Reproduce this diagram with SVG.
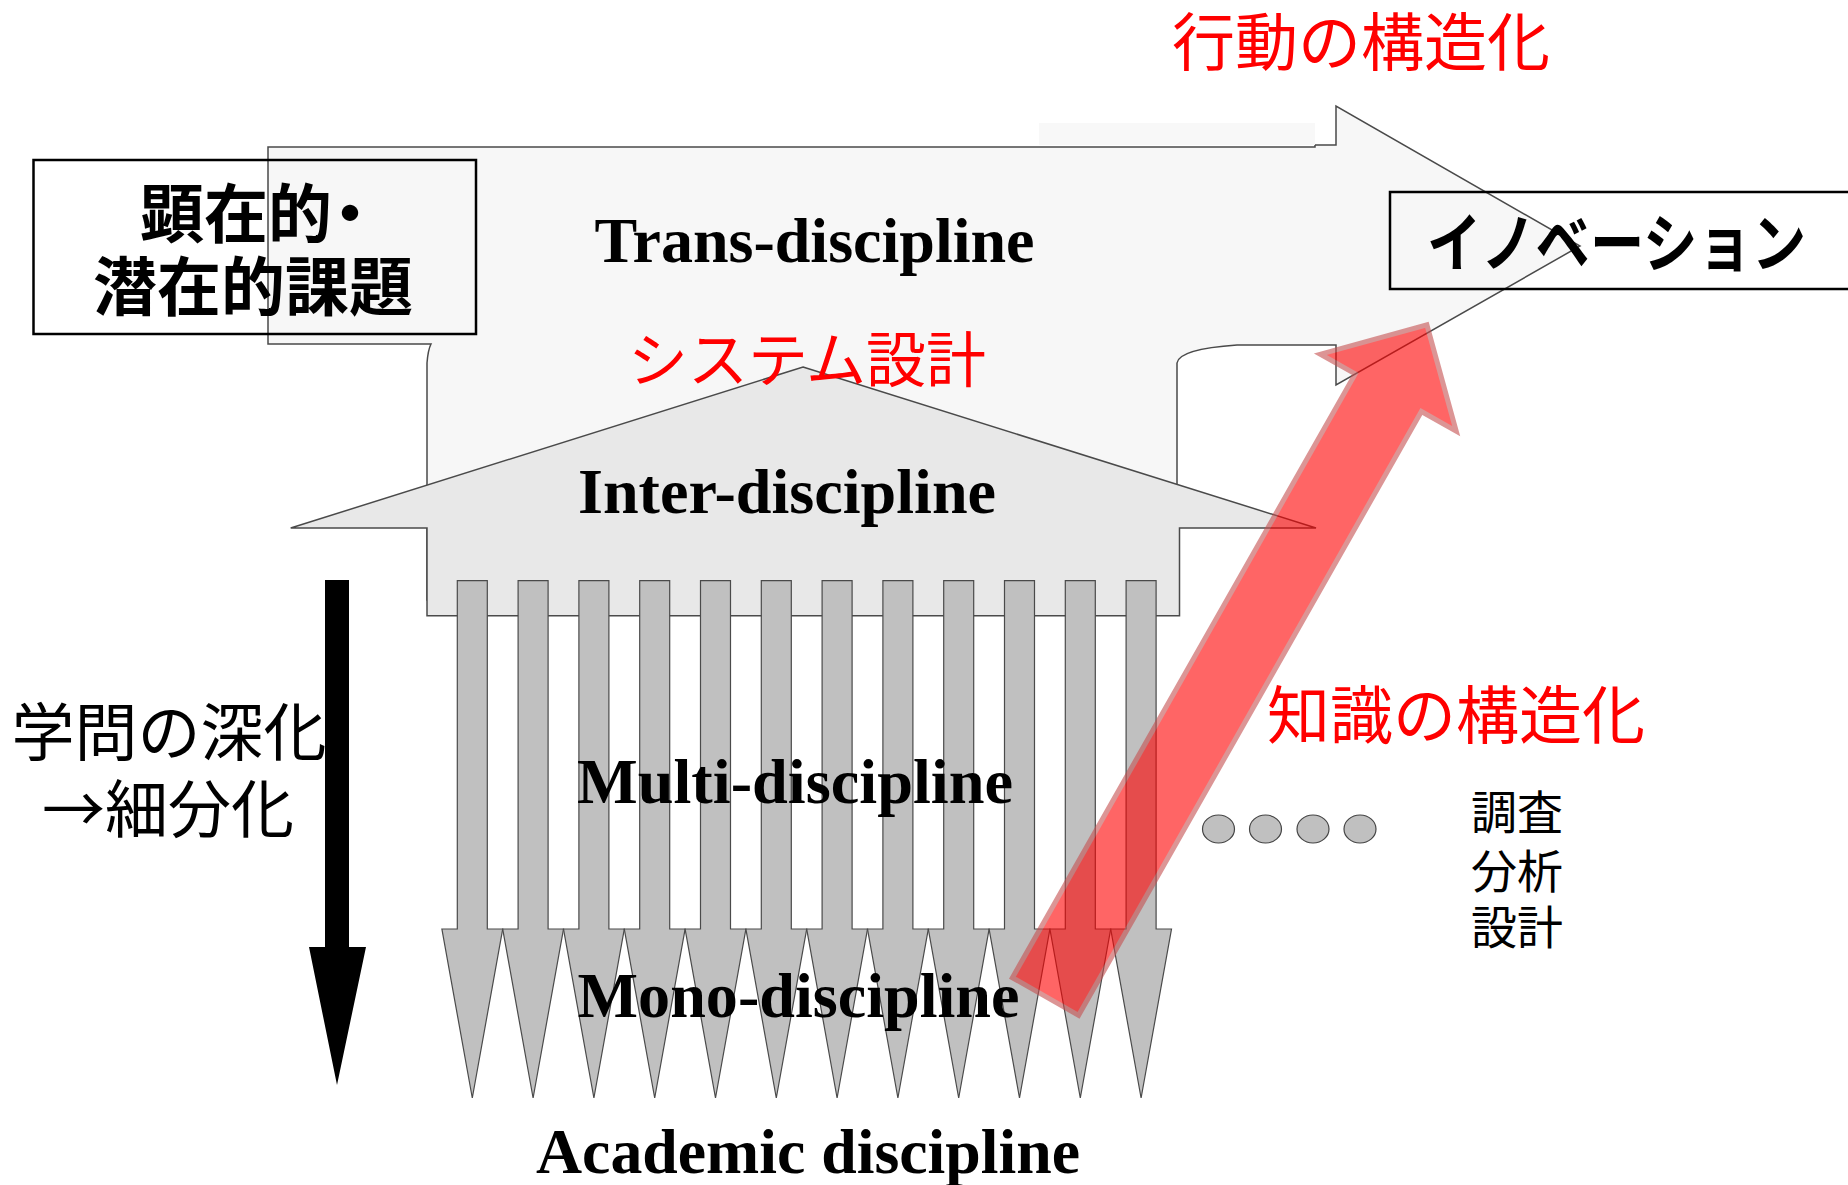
<svg xmlns="http://www.w3.org/2000/svg" xmlns:xlink="http://www.w3.org/1999/xlink" width="1848" height="1185" viewBox="0 0 1848 1185">
<style>
.en{font-family:"Liberation Serif","Times New Roman",serif;font-weight:bold;font-size:64px;fill:#000;text-anchor:middle}
.jp{font-family:"Noto Sans CJK JP","Noto Sans CJK SC",sans-serif;font-size:63px}
.jpb{font-family:"Noto Sans CJK JP","Noto Sans CJK SC",sans-serif;font-size:64px;font-weight:bold;fill:#000}
.red{fill:#FF0000;text-anchor:middle}
.blk{fill:#000}
.shape{stroke:#4a4a4a;stroke-width:1.5}
.box{fill:none;stroke:#000;stroke-width:2.5}
.dot{fill:#C0C0C0;stroke:#444;stroke-width:1.2}
</style>
<defs>
<path id="dn" d="M-15,0 H15 V348.3 H30.4 L0,517.3 L-30.4,348.3 H-15 Z" fill="#C0C0C0" stroke="#4a4a4a" stroke-width="1.2"/>
</defs>
<rect width="1848" height="1185" fill="#FFFFFF"/>

<g id="trans-arrow">
<path class="shape" fill="#F7F7F7" d="M268,147 H1315 V145 H1336 V106 L1580,246 L1336,385 V345 H1237 Q1179,349 1177,363 V600 H427 V363 Q428,350 431,344 H268 Z"/>
<rect x="1039" y="123" width="276" height="22" fill="#F8F8F8"/>
<text class="en" x="814.5" y="262" textLength="440" lengthAdjust="spacingAndGlyphs">Trans-discipline</text>
</g>

<g id="inter-arrow">
<path class="shape" fill="#E8E8E8" d="M803,367 L1316,528 H1179.5 V615.7 H427 V528 H290.7 Z"/>
<text class="en" x="787" y="513" textLength="418" lengthAdjust="spacingAndGlyphs">Inter-discipline</text>
</g>

<g id="multi-arrows">
<use xlink:href="#dn" x="472.3" y="580.7"/>
<use xlink:href="#dn" x="533.1" y="580.7"/>
<use xlink:href="#dn" x="593.9" y="580.7"/>
<use xlink:href="#dn" x="654.7" y="580.7"/>
<use xlink:href="#dn" x="715.5" y="580.7"/>
<use xlink:href="#dn" x="776.3" y="580.7"/>
<use xlink:href="#dn" x="837.1" y="580.7"/>
<use xlink:href="#dn" x="897.9" y="580.7"/>
<use xlink:href="#dn" x="958.7" y="580.7"/>
<use xlink:href="#dn" x="1019.5" y="580.7"/>
<use xlink:href="#dn" x="1080.3" y="580.7"/>
<use xlink:href="#dn" x="1141.1" y="580.7"/>
<text class="en" x="795" y="803" textLength="436" lengthAdjust="spacingAndGlyphs">Multi-discipline</text>
<text class="en" x="798.5" y="1017" textLength="442" lengthAdjust="spacingAndGlyphs">Mono-discipline</text>
</g>

<g id="academic">
<text class="en" x="808" y="1173" textLength="544" lengthAdjust="spacingAndGlyphs">Academic discipline</text>
</g>

<g id="deepening">
<polygon points="325,580 349,580 349,947 366,947 337,1085 309,947 325,947" fill="#000"/>
<text class="jp blk" x="169" y="755" text-anchor="middle">学問の深化</text>
<text class="jp blk" x="168" y="832" text-anchor="middle">→細分化</text>
</g>

<g id="issues">
<rect class="box" x="33.5" y="160" width="442.5" height="174"/>
<text class="jpb" x="140" y="237">顕在的<tspan x="318">・</tspan></text>
<text class="jpb" x="93" y="310">潜在的課題</text>
</g>

<g id="innovation">
<rect class="box" x="1390" y="192" width="470" height="97"/>
<text class="jpb" x="1427" y="266" textLength="379" lengthAdjust="spacingAndGlyphs">イノベーション</text>
</g>

<g id="labels">
<text class="jp red" x="1361" y="65">行動の構造化</text>
<text class="jp red" x="807" y="382" style="font-size:60px">システム設計</text>
<text class="jp red" x="1456" y="738">知識の構造化</text>
</g>

<g id="dots">
<ellipse class="dot" cx="1218.5" cy="829" rx="16" ry="14"/>
<ellipse class="dot" cx="1265.5" cy="829" rx="16" ry="14"/>
<ellipse class="dot" cx="1313" cy="829" rx="16" ry="14"/>
<ellipse class="dot" cx="1360" cy="829" rx="16" ry="14"/>
</g>

<g id="methods">
<text class="jp blk" x="1471" y="829" style="font-size:46px">調査</text>
<text class="jp blk" x="1471" y="888" style="font-size:46px">分析</text>
<text class="jp blk" x="1471" y="944" style="font-size:46px">設計</text>
</g>

<g id="connectors">
<g opacity="0.6">
<polygon points="1012.4,977.7 1355.2,373.9 1320.4,354.2 1426.9,324.9 1456.2,431.2 1421.4,411.5 1078.6,1015.3" fill="#FF0000" stroke="#C55050" stroke-width="5" stroke-linejoin="miter"/>
</g>
</g>
</svg>
